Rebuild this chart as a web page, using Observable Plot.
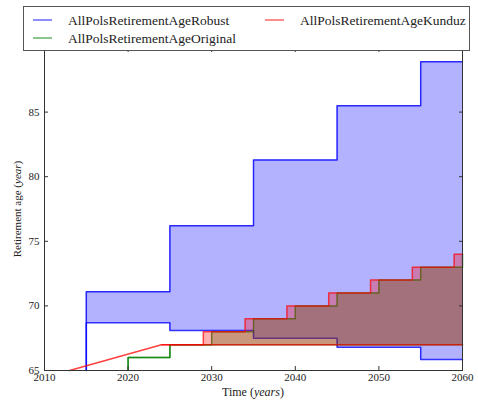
<!DOCTYPE html>
<html><head><meta charset="utf-8">
<script src="https://cdn.jsdelivr.net/npm/d3@7"></script>
<script src="https://cdn.jsdelivr.net/npm/@observablehq/plot@0.6"></script>
<style>
body{margin:0;background:#fff;}
#wrap{position:relative;width:478px;height:400px;overflow:hidden;}
#wrap svg{display:block;}
</style></head><body><div id="wrap"></div>
<script>
const xTicks = [2010, 2020, 2030, 2040, 2050, 2060];
const yTicks = [65, 70, 75, 80, 85, 90];

const robustYears = [2015, 2015, 2025, 2035, 2045, 2055, 2060];
const robustUpper = [65, 71.1, 76.2, 81.3, 85.5, 88.9, 88.9];
const robustLower = [65, 68.7, 68.1, 67.5, 66.8, 65.85, 65.85];

const originalYears = [2020, 2020, 2025, 2030, 2035, 2040, 2045, 2050, 2055, 2060];
const originalLower = [65, 66, 67, 67, 67, 67, 67, 67, 67, 67];
const originalUpper = [65, 66, 67, 68, 69, 70, 71, 72, 73, 74];

const kunduzYears = [2024, 2029, 2034, 2039, 2044, 2049, 2054, 2059, 2060];
const kunduzUpper = [67, 68, 69, 70, 71, 72, 73, 74, 74];
const kunduzLowerYears = [2013, 2024, 2060];
const kunduzLower = [65, 67, 67];

const seriesNames = ["AllPolsRetirementAgeRobust", "AllPolsRetirementAgeOriginal", "AllPolsRetirementAgeKunduz"];
const seriesColors = ["#0000ff", "#008000", "#ff0000"];

const robust = robustYears.map((year, i) => ({year, lower: robustLower[i], upper: robustUpper[i]}));
const original = originalYears.map((year, i) => ({year, lower: originalLower[i], upper: originalUpper[i]}));
const kunduzBase = kunduzLower[kunduzLower.length - 1];
const kunduz = kunduzYears.map((year, i) => ({year, lower: kunduzBase, upper: kunduzUpper[i]}));
const kunduzLow = kunduzLowerYears.map((year, i) => ({year, value: kunduzLower[i]}));

const [cB, cG, cR] = seriesColors;
const font = '"Liberation Serif", "Times New Roman", Times, serif';

const chart = Plot.plot({
  width: 478, height: 400,
  marginLeft: 44, marginRight: 16, marginTop: 47, marginBottom: 30,
  style: {fontFamily: font, fontSize: "11px", color: "#222", background: "white"},
  x: {domain: [2010, 2060]},
  y: {domain: [65, 90]},
  marks: [
    Plot.areaY(robust, {x: "year", y1: "lower", y2: "upper", curve: "step-after", fill: cB, fillOpacity: 0.3}),
    Plot.lineY(robust, {x: "year", y: "upper", curve: "step-after", stroke: cB, strokeOpacity: 0.8, strokeWidth: 1.5}),
    Plot.lineY(robust, {x: "year", y: "lower", curve: "step-after", stroke: cB, strokeOpacity: 0.8, strokeWidth: 1.5}),
    Plot.areaY(original, {x: "year", y1: "lower", y2: "upper", curve: "step-after", fill: cG, fillOpacity: 0.3}),
    Plot.lineY(original, {x: "year", y: "upper", curve: "step-after", stroke: cG, strokeOpacity: 0.7, strokeWidth: 1.5}),
    Plot.lineY(original, {x: "year", y: "lower", curve: "step-after", stroke: cG, strokeOpacity: 0.7, strokeWidth: 1.5}),
    Plot.areaY(kunduz, {x: "year", y1: "lower", y2: "upper", curve: "step-after", fill: cR, fillOpacity: 0.3}),
    Plot.lineY(kunduz, {x: "year", y: "upper", curve: "step-after", stroke: cR, strokeOpacity: 0.65, strokeWidth: 1.5}),
    Plot.lineY(kunduzLow, {x: "year", y: "value", stroke: cR, strokeOpacity: 0.75, strokeWidth: 1.5}),
    Plot.frame({stroke: "#333"}),
    Plot.axisX({ticks: xTicks, tickSize: -4, tickPadding: 7, tickFormat: d => String(d), label: null, stroke: "#333"}),
    Plot.axisX({anchor: "top", ticks: xTicks, tickSize: -4, tickFormat: () => "", label: null, stroke: "#333"}),
    Plot.axisY({ticks: yTicks, tickSize: -4, tickPadding: 9, tickFormat: d => String(d), label: null, stroke: "#333"}),
    Plot.axisY({anchor: "right", ticks: yTicks, tickSize: -4, tickFormat: () => "", label: null, stroke: "#333"})
  ]
});

const wrap = document.getElementById("wrap");
wrap.appendChild(chart);

const svgNS = "http://www.w3.org/2000/svg";
function mk(tag, attrs, parent) {
  const el = document.createElementNS(svgNS, tag);
  for (const k in attrs) el.setAttribute(k, attrs[k]);
  if (parent) parent.appendChild(el);
  return el;
}
function labelText(parent, attrs, before, ital, after) {
  const t = mk("text", attrs, parent);
  t.appendChild(document.createTextNode(before));
  const ts = mk("tspan", {"font-style": "italic"}, t);
  ts.textContent = ital;
  t.appendChild(document.createTextNode(after));
  return t;
}

// axis labels
const ov = mk("svg", {width: 478, height: 400, style: "position:absolute;left:0;top:0;pointer-events:none;font-family:" + font.replace(/"/g, "'")});
wrap.appendChild(ov);
labelText(ov, {x: 253, y: 396, "text-anchor": "middle", "font-size": 12, fill: "#222"}, "Time (", "years", ")");
labelText(ov, {transform: "translate(21,209) rotate(-90)", "text-anchor": "middle", "font-size": 11, fill: "#222"}, "Retirement age (", "year", ")");

// legend
mk("rect", {x: 23.5, y: 6.5, width: 446, height: 44, fill: "white", stroke: "#555", "stroke-width": 1}, ov);
const legendPos = [[33, 20], [33, 38], [265, 20]];
seriesNames.forEach((name, i) => {
  const [lx, ly] = legendPos[i];
  mk("line", {x1: lx, x2: lx + 19, y1: ly, y2: ly, stroke: seriesColors[i], "stroke-opacity": 0.45, "stroke-width": 2}, ov);
  const t = mk("text", {x: lx + 35, y: ly + 4.5, "font-size": 13.5, fill: "#222"}, ov);
  t.textContent = name;
});
</script></body></html>
